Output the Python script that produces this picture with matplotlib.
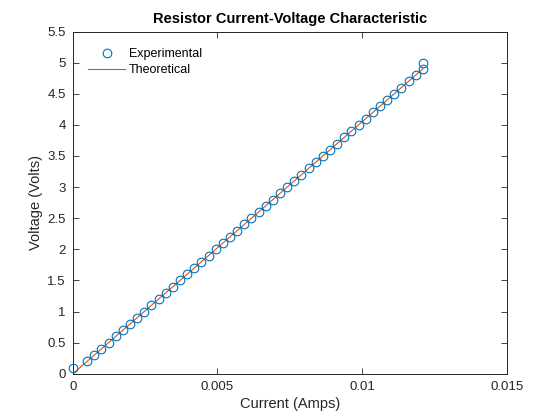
import matplotlib
matplotlib.use("Agg")
import matplotlib.pyplot as plt

voltage = [0.1, 0.2, 0.3, 0.4, 0.5, 0.6, 0.7, 0.8, 0.9, 1.0,
           1.1, 1.2, 1.3, 1.4, 1.5, 1.6, 1.7, 1.8, 1.9, 2.0,
           2.1, 2.2, 2.3, 2.4, 2.5, 2.6, 2.7, 2.8, 2.9, 3.0,
           3.1, 3.2, 3.3, 3.4, 3.5, 3.6, 3.7, 3.8, 3.9, 4.0,
           4.1, 4.2, 4.3, 4.4, 4.5, 4.6, 4.7, 4.8, 4.9, 5.0]
current = [0.0, 0.000494, 0.000741, 0.000988, 0.001235, 0.001481, 0.001728, 0.001975, 0.002222, 0.002469,
           0.002716, 0.002963, 0.003210, 0.003457, 0.003704, 0.003951, 0.004198, 0.004444, 0.004691, 0.004938,
           0.005185, 0.005432, 0.005679, 0.005926, 0.006173, 0.006420, 0.006667, 0.006914, 0.007160, 0.007407,
           0.007654, 0.007901, 0.008148, 0.008395, 0.008642, 0.008889, 0.009136, 0.009383, 0.009630, 0.009877,
           0.010123, 0.010370, 0.010617, 0.010864, 0.011111, 0.011358, 0.011605, 0.011852, 0.012099, 0.012100]

theory_current = [0.0, 0.0121]
theory_voltage = [0.0, 4.9]

xticks = [0, 0.005, 0.01, 0.015]
xtick_labels = ["0", "0.005", "0.01", "0.015"]
yticks = [0, 0.5, 1, 1.5, 2, 2.5, 3, 3.5, 4, 4.5, 5, 5.5]
ytick_labels = ["0", "0.5", "1", "1.5", "2", "2.5", "3", "3.5", "4", "4.5", "5", "5.5"]

plt.rcParams["font.family"] = ["Liberation Sans", "DejaVu Sans"]
axis_color = "#262626"

fig = plt.figure(figsize=(5.6, 4.2), dpi=100)
ax = fig.add_axes([0.13, 0.11, 0.775, 0.815])

ax.plot(current, voltage, linestyle="none", marker="o", markersize=6.2,
        markerfacecolor="none", markeredgecolor="#0072BD", markeredgewidth=0.8,
        label="Experimental", clip_on=False, zorder=3)
ax.plot(theory_current, theory_voltage, color="#D95319", linewidth=0.8,
        label="Theoretical")

ax.set_xlim(0, 0.015)
ax.set_ylim(0, 5.5)
ax.set_xticks(xticks)
ax.set_xticklabels(xtick_labels)
ax.set_yticks(yticks)
ax.set_yticklabels(ytick_labels)

ax.tick_params(direction="in", length=4, width=0.6, colors=axis_color,
               labelsize=9.5, top=True, right=True, pad=5)
for side in ax.spines.values():
    side.set_color(axis_color)
    side.set_linewidth(0.7)

ax.set_xlabel("Current (Amps)", fontsize=10.5, color=axis_color, labelpad=3)
ax.set_ylabel("Voltage (Volts)", fontsize=10.5, color=axis_color, labelpad=3)
ax.set_title("Resistor Current-Voltage Characteristic", fontsize=10.5,
             fontweight="bold", color="black", pad=6)

leg = ax.legend(loc="upper left", frameon=False, fontsize=9, handlelength=2.9,
                handletextpad=0.35, labelspacing=0.35,
                bbox_to_anchor=(0.01, 0.985))

fig.savefig("out.png", dpi=100)
